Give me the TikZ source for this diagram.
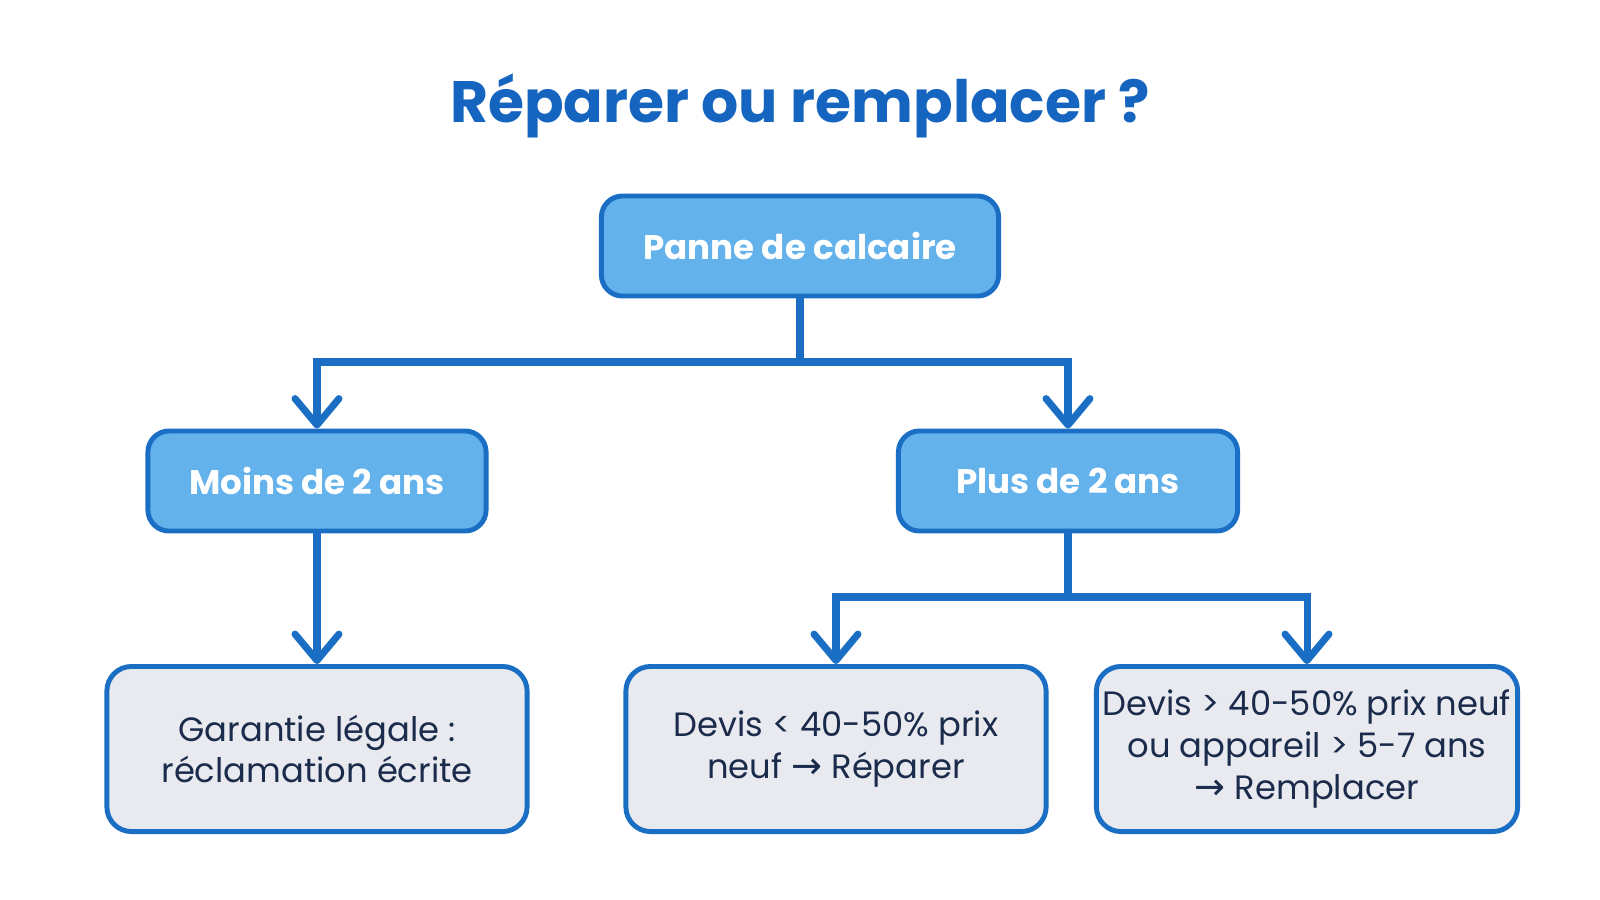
\documentclass[tikz,border=0pt]{standalone}
\usepackage{fontspec}
\setmainfont{Poppins}
\newfontfamily\symfont{DejaVu Sans}
\usetikzlibrary{arrows.meta}
\definecolor{lineblue}{HTML}{1A6FC4}
\definecolor{titleblue}{HTML}{1565C0}
\definecolor{headfill}{HTML}{64B2EC}
\definecolor{leaffill}{HTML}{E8EAEF}
\definecolor{navy}{HTML}{1B2B4B}
\newcommand{\rarr}{{\symfont\fontsize{10.5}{11.9}\selectfont →}}
\tikzset{
  headbox/.style={draw=lineblue, line width=1.4pt, fill=headfill, rounded corners=6pt,
    text=white, font=\fontsize{9.7}{12}\selectfont\bfseries, align=center, inner sep=0pt},
  leafbox/.style={draw=lineblue, line width=1.4pt, fill=leaffill, rounded corners=7pt,
    text=navy, font=\fontsize{9.6}{11.9}\selectfont, align=center, inner sep=0pt},
  conn/.style={draw=lineblue, line width=2pt},
  arr/.style={conn, -{Straight Barb[length=7.5pt, width=12.5pt, line width=2pt, round]}}
}
\begin{document}
\begin{tikzpicture}[x=0.01cm, y=-0.01cm]
\useasboundingbox (0,0) rectangle (1600,900);
\fill[white] (0,0) rectangle (1600,900);
\node[text=titleblue, font=\fontsize{16.6}{20}\selectfont\bfseries] (title) at (800,106) {Réparer ou remplacer ?};
\node[headbox, minimum width=3.97cm, minimum height=1.0cm] (root) at (800,246) {Panne de calcaire};
\node[headbox, minimum width=3.38cm, minimum height=1.0cm] (moins) at (317,481) {Moins de 2 ans};
\node[headbox, minimum width=3.39cm, minimum height=1.0cm] (plus) at (1068,481) {Plus de 2 ans};
\node[leafbox, minimum width=4.2cm, minimum height=1.65cm] (gar) at (317,749) {Garantie légale :\\réclamation écrite};
\node[leafbox, minimum width=4.2cm, minimum height=1.65cm] (rep) at (836,749) {Devis < 40-50\% prix\\neuf \rarr{} Réparer};
\node[leafbox, minimum width=4.21cm, minimum height=1.65cm] (rem) at (1307,749) {Devis > 40-50\% prix neuf\\ou appareil > 5-7 ans\\\rarr{} Remplacer};
\coordinate (j1) at (800,362);
\coordinate (j2) at (1068,597);
\draw[conn] (root.south) -- (j1);
\draw[arr] (j1) -| (moins.north);
\draw[arr] (j1) -| (plus.north);
\draw[arr] (moins.south) -- (gar.north);
\draw[conn] (plus.south) -- (j2);
\draw[arr] (j2) -| (rep.north);
\draw[arr] (j2) -| (rem.north);
\end{tikzpicture}
\end{document}
